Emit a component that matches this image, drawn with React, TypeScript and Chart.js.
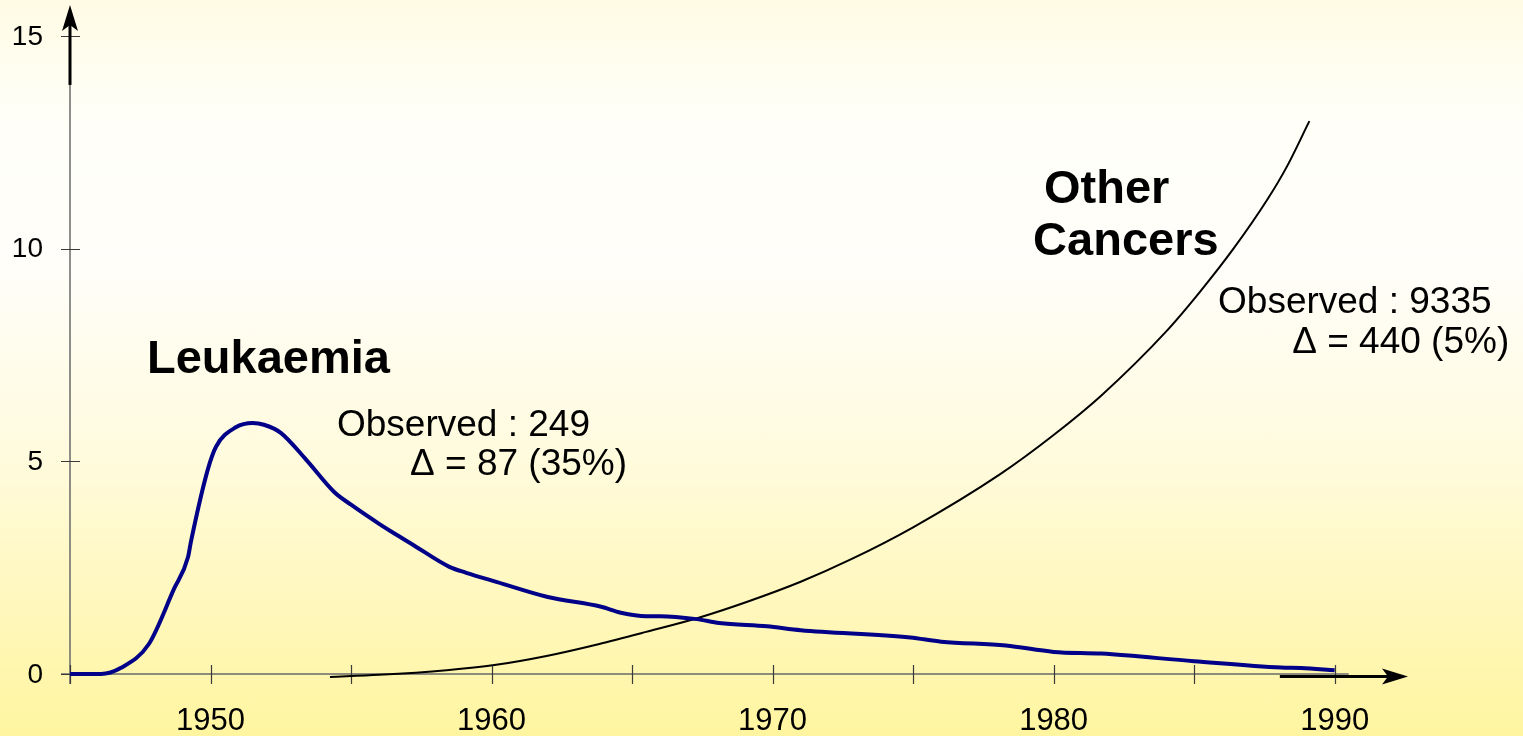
import React, { useEffect, useRef } from "react";
import { Chart, registerables } from "chart.js";

Chart.register(...registerables);

// ---- data ----
const leukYears = [
  1945.0, 1946.1, 1946.8, 1947.8, 1948.7, 1949.2, 1949.3, 1949.9, 1950.2, 1950.9,
  1951.5, 1951.9, 1952.5, 1953.4, 1954.4, 1955.0, 1956.0, 1956.5, 1957.2, 1958.5,
  1959.1, 1960.2, 1962.0, 1963.9, 1964.6, 1965.5, 1966.0, 1967.3, 1968.1, 1969.8,
  1971.0, 1974.9, 1976.0, 1978.3, 1980.0, 1981.7, 1985.0, 1988.1, 1988.8, 1990.0,
];
const leukValues = [
  0, 0, 0.14, 0.7, 2.0, 2.75, 3.1, 4.8, 5.35, 5.8,
  5.9, 5.86, 5.67, 5.04, 4.28, 3.98, 3.53, 3.32, 3.04, 2.52,
  2.38, 2.16, 1.81, 1.58, 1.44, 1.36, 1.36, 1.29, 1.2, 1.12,
  1.03, 0.86, 0.76, 0.67, 0.52, 0.48, 0.3, 0.15, 0.14, 0.09,
];
const otherYears = [
  1954.25, 1956.0, 1958.4, 1960.1, 1962.0, 1963.8, 1965.5, 1967.4, 1969.1, 1971.0,
  1972.8, 1975.0, 1978.1, 1980.0, 1981.7, 1984.0, 1985.2, 1986.4, 1987.6, 1988.3, 1989.1,
];
const otherValues = [
  -0.07, -0.02, 0.09, 0.21, 0.43, 0.7, 0.99, 1.33, 1.7, 2.17,
  2.7, 3.45, 4.7, 5.62, 6.55, 8.05, 8.98, 10.0, 11.15, 11.93, 13.0,
];
const xTicks = [1945, 1950, 1955, 1960, 1965, 1970, 1975, 1980, 1985, 1990];
const xLabels = [1950, 1960, 1970, 1980, 1990];
const yTicks = [0, 5, 10, 15];

const FONT = '"Liberation Sans", Arial, Helvetica, sans-serif';

const axesPlugin = {
  id: "customAxes",
  beforeDatasetsDraw(chart: any) {
    const { ctx, scales } = chart;
    const xs = scales.x;
    const ys = scales.y;
    const x0 = xs.getPixelForValue(1945);
    const y0 = ys.getPixelForValue(0);
    ctx.save();
    // thin axis lines
    ctx.strokeStyle = "#6a6a6a";
    ctx.lineWidth = 1.5;
    ctx.beginPath();
    ctx.moveTo(x0 - 9, y0);
    ctx.lineTo(xs.getPixelForValue(1990.5), y0);
    ctx.moveTo(x0, y0 + 10);
    ctx.lineTo(x0, ys.getPixelForValue(14));
    ctx.stroke();
    // ticks
    ctx.strokeStyle = "#3a3a3a";
    ctx.lineWidth = 1.2;
    ctx.beginPath();
    xTicks.forEach((t) => {
      const px = Math.round(xs.getPixelForValue(t)) + 0.5;
      ctx.moveTo(px, y0 - 9);
      ctx.lineTo(px, y0 + 10);
    });
    yTicks.forEach((t) => {
      const py = Math.round(ys.getPixelForValue(t)) + 0.5;
      ctx.moveTo(x0 - 9, py);
      ctx.lineTo(x0 + 10, py);
    });
    ctx.stroke();
    // labels
    ctx.fillStyle = "#000";
    ctx.font = `31px ${FONT}`;
    ctx.textAlign = "center";
    ctx.textBaseline = "alphabetic";
    xLabels.forEach((t) => {
      ctx.fillText(String(t), xs.getPixelForValue(t), y0 + 56);
    });
    ctx.font = `28px ${FONT}`;
    ctx.textAlign = "right";
    ctx.textBaseline = "middle";
    yTicks.forEach((t) => {
      ctx.fillText(String(t), x0 - 27, ys.getPixelForValue(t) + 1);
    });
    // thick arrows
    ctx.strokeStyle = "#000";
    ctx.fillStyle = "#000";
    ctx.lineWidth = 3;
    // x arrow
    const ax0 = xs.getPixelForValue(1988.05);
    const axTip = chart.chartArea.right;
    const ay = y0 + 2.5;
    ctx.beginPath();
    ctx.moveTo(ax0, ay);
    ctx.lineTo(axTip - 15, ay);
    ctx.stroke();
    ctx.beginPath();
    ctx.moveTo(axTip, ay);
    ctx.lineTo(axTip - 26, ay - 8);
    ctx.lineTo(axTip - 20, ay);
    ctx.lineTo(axTip - 26, ay + 8);
    ctx.closePath();
    ctx.fill();
    // y arrow
    const yTop = chart.chartArea.top;
    const yStart = ys.getPixelForValue(13.85);
    ctx.beginPath();
    ctx.moveTo(x0, yStart);
    ctx.lineTo(x0, yTop + 15);
    ctx.stroke();
    ctx.beginPath();
    ctx.moveTo(x0, yTop);
    ctx.lineTo(x0 - 8, yTop + 26);
    ctx.lineTo(x0, yTop + 20);
    ctx.lineTo(x0 + 8, yTop + 26);
    ctx.closePath();
    ctx.fill();
    ctx.restore();
  },
  afterDatasetsDraw(chart: any) {
    const { ctx, scales } = chart;
    const xs = scales.x;
    const ys = scales.y;
    const put = (text: string, year: number, val: number, font: string) => {
      ctx.font = font;
      ctx.fillText(text, xs.getPixelForValue(year), ys.getPixelForValue(val));
    };
    ctx.save();
    ctx.fillStyle = "#000";
    ctx.textAlign = "left";
    ctx.textBaseline = "alphabetic";
    const bold = `bold 47px ${FONT}`;
    const reg = `37px ${FONT}`;
    put("Leukaemia", 1947.74, 7.08, bold);
    put("Observed : 249", 1954.5, 5.6, reg);
    put("\u0394 = 87 (35%)", 1957.1, 4.68, reg);
    put("Other", 1979.66, 11.07, bold);
    put("Cancers", 1979.27, 9.85, bold);
    put("Observed : 9335", 1985.85, 8.49, reg);
    put("\u0394 = 440 (5%)", 1988.49, 7.55, reg);
    ctx.restore();
  },
};

export default function App() {
  const ref = useRef<HTMLCanvasElement | null>(null);
  useEffect(() => {
    if (!ref.current) return;
    const chart = new Chart(ref.current, {
      type: "line",
      data: {
        datasets: [
          {
            label: "Leukaemia",
            data: leukYears.map((x, i) => ({ x, y: leukValues[i] })),
            borderColor: "#000088",
            borderWidth: 4,
            pointRadius: 0,
            fill: false,
            cubicInterpolationMode: "monotone",
            clip: false,
          } as any,
          {
            label: "Other Cancers",
            data: otherYears.map((x, i) => ({ x, y: otherValues[i] })),
            borderColor: "#000000",
            borderWidth: 2,
            pointRadius: 0,
            fill: false,
            cubicInterpolationMode: "monotone",
            clip: false,
          } as any,
        ],
      },
      options: {
        responsive: false,
        animation: false,
        devicePixelRatio: 1,
        layout: { padding: { left: 70, right: 115, top: 5, bottom: 62 } },
        plugins: { legend: { display: false }, tooltip: { enabled: false } },
        events: [],
        scales: {
          x: { type: "linear", min: 1945, max: 1992.61, display: false },
          y: { type: "linear", min: 0, max: 15.73, display: false },
        },
      },
      plugins: [axesPlugin],
    });
    return () => chart.destroy();
  }, []);
  return (
    <div
      style={{
        position: "fixed",
        left: 0,
        top: 0,
        width: 1523,
        height: 736,
        background:
          "linear-gradient(to bottom, #fffbe4 0%, #fffff8 16%, #fffefa 35%, #fffbe0 60%, #fff7b8 85%, #fff5a0 100%)",
      }}
    >
      <canvas ref={ref} width={1523} height={736} style={{ display: "block" }} />
    </div>
  );
}
